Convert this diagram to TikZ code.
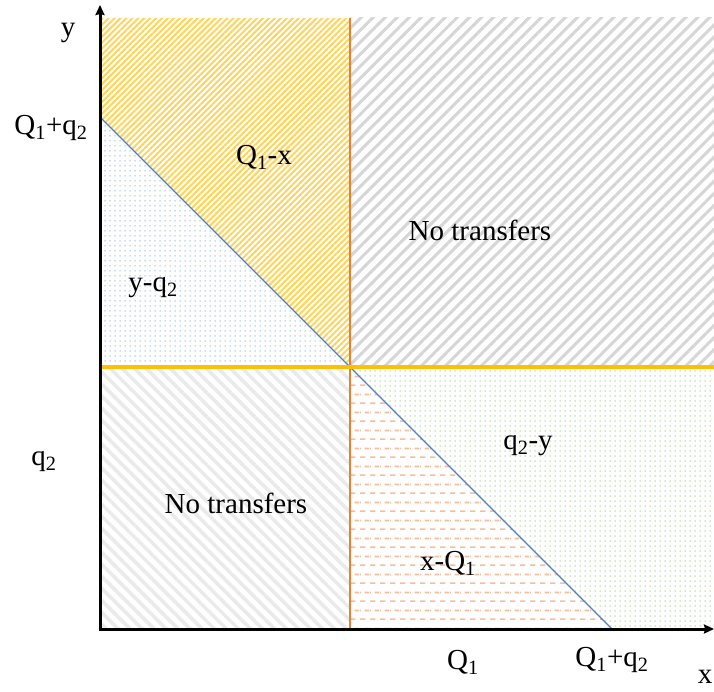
\documentclass[tikz,border=0pt]{standalone}
\usepackage{fontspec}
\setmainfont{Liberation Serif}
\usetikzlibrary{patterns.meta,arrows.meta}
\definecolor{axisblack}{HTML}{000000}
\definecolor{gold}{HTML}{FFC000}
\definecolor{goldlight}{HTML}{FFD45A}
\definecolor{orangeline}{HTML}{ED7D31}
\definecolor{orangedash}{HTML}{F6BE9C}
\definecolor{blueline}{HTML}{4F7FD0}
\definecolor{bluedot}{HTML}{9DBCE6}
\definecolor{greendot}{HTML}{A9D18E}
\definecolor{greyA}{HTML}{D6D6D6}
\definecolor{greyB}{HTML}{EAEAEA}
\pgfdeclarepattern{
  name=hdashes,
  type=uncolored,
  bottom left={\pgfpoint{0pt}{0pt}},
  top right={\pgfpoint{10pt}{18pt}},
  tile size={\pgfpoint{10pt}{18pt}},
  code={
    \pgfpathrectangle{\pgfpoint{0pt}{0pt}}{\pgfpoint{6pt}{1.8pt}}
    \pgfpathrectangle{\pgfpoint{5pt}{9pt}}{\pgfpoint{5pt}{1.8pt}}
    \pgfpathrectangle{\pgfpoint{0pt}{9pt}}{\pgfpoint{1pt}{1.8pt}}
    \pgfusepath{fill}
  }
}
\tikzset{
  lbl/.style={font=\fontsize{29}{34}\selectfont, inner sep=0pt},
  axis/.style={line width=3pt, axisblack, -{Stealth[length=10pt,width=9pt,inset=1pt]}},
}
\newcommand{\sbs}[1]{\textsubscript{#1}}
\begin{document}
\begin{tikzpicture}[x=1pt,y=1pt]
\useasboundingbox (0,0) rectangle (714,691);
% key coordinates
\coordinate (O) at (100,62);
\coordinate (YT) at (100,686);
\coordinate (XR) at (714,62);
\coordinate (TL) at (100,673);
\coordinate (TM) at (350,673);
\coordinate (TR) at (714,673);
\coordinate (ML) at (100,324);
\coordinate (C) at (350,324);
\coordinate (MR) at (714,324);
\coordinate (BM) at (350,62);
\coordinate (B) at (612,62);
\coordinate (A) at (100,574);
% regions
\fill[white] (TL) rectangle (XR);
\fill[pattern={Lines[angle=45,distance=4.2pt,line width=2pt]}, pattern color=goldlight]
  (TL) -- (TM) -- (C) -- (A) -- cycle;
\fill[pattern={Dots[distance=5pt,radius=0.75pt]}, pattern color=bluedot]
  (A) -- (C) -- (ML) -- cycle;
\fill[pattern={Lines[angle=45,distance=8.5pt,line width=3pt]}, pattern color=greyA]
  (TM) -- (TR) -- (MR) -- (C) -- cycle;
\fill[pattern={Lines[angle=-45,distance=8.5pt,line width=3.5pt]}, pattern color=greyB]
  (ML) -- (C) -- (BM) -- (O) -- cycle;
\fill[pattern=hdashes, pattern color=orangedash]
  (C) -- (B) -- (BM) -- cycle;
\fill[pattern={Dots[distance=5pt,radius=0.75pt]}, pattern color=greendot]
  (C) -- (MR) -- (XR) -- (B) -- cycle;
% lines
\draw[blueline, line width=1.2pt] (A) -- (B);
\draw[orangeline, line width=1.6pt] (TM) -- (BM);
\draw[gold, line width=4pt] (ML) -- (MR);
% axes
\draw[axis] (O) -- (YT);
\draw[axis] ([xshift=-1.5pt]O) -- (XR);
% labels
\node[lbl] (ly) at (68,658) {y};
\node[lbl] (lqq) at (51,563) {Q\sbs{1}+q\sbs{2}};
\node[lbl] (lq2) at (44,229) {q\sbs{2}};
\node[lbl] (lQ1) at (463,29) {Q\sbs{1}};
\node[lbl] (lQq) at (612,31) {Q\sbs{1}+q\sbs{2}};
\node[lbl] (lx) at (705,14) {x};
\node[lbl] (r1) at (264,534) {Q\sbs{1}-x};
\node[lbl] (r2) at (153,403) {y-q\sbs{2}};
\node[lbl] (r3) at (480,461) {No transfers};
\node[lbl] (r4) at (236,188) {No transfers};
\node[lbl] (r5) at (528,245) {q\sbs{2}-y};
\node[lbl] (r6) at (448,128) {x-Q\sbs{1}};
\end{tikzpicture}
\end{document}
